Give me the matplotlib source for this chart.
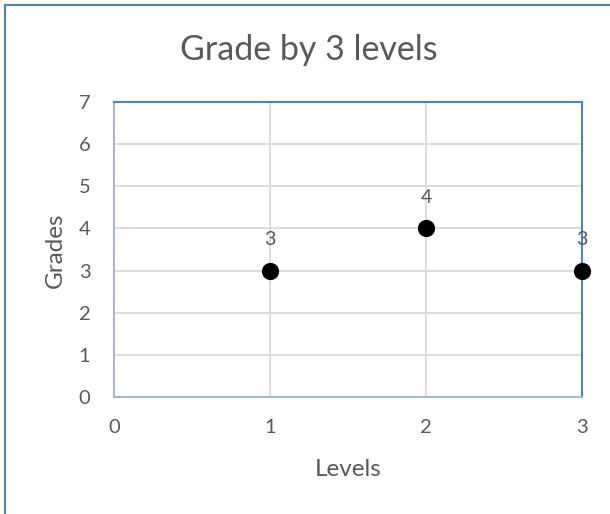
import matplotlib
matplotlib.use("Agg")
import matplotlib.pyplot as plt
from matplotlib.lines import Line2D

levels = [1, 2, 3]
grades = [3, 4, 3]
x_ticks = [0, 1, 2, 3]
y_ticks = [0, 1, 2, 3, 4, 5, 6, 7]

plt.rcParams['font.family'] = ['Lato', 'DejaVu Sans']
txt = '#595959'
grid = '#D9D9D9'
blue = '#4F81BD'

fig = plt.figure(figsize=(6.10, 5.14), dpi=100)
ax = fig.add_axes([114/610, 1-397/514, (582-114)/610, (397-102)/514])

ax.set_xlim(0, 3)
ax.set_ylim(0, 7)
ax.set_xticks(x_ticks)
ax.set_yticks(y_ticks)
ax.grid(True, color=grid, linewidth=1.3)
ax.set_axisbelow(True)
ax.tick_params(length=0, labelsize=14.5, colors=txt)
ax.tick_params(axis='x', pad=16)
ax.tick_params(axis='y', pad=17)

for s in ['top', 'right']:
    ax.spines[s].set_color(blue)
    ax.spines[s].set_linewidth(1.5)
for s in ['left', 'bottom']:
    ax.spines[s].set_color('#A9B7C8')
    ax.spines[s].set_linewidth(1.5)

ax.scatter(levels, grades, s=130, color='black', zorder=5, clip_on=False)
for x, y in zip(levels, grades):
    ax.annotate(str(y), (x, y), xytext=(0, 22.5), textcoords='offset points',
                ha='center', va='center', fontsize=14, color=txt, zorder=6)

fig.text(309/610, 1-50/514, 'Grade by 3 levels', fontsize=24.5, color=txt,
         ha='center', va='center')
fig.text(348/610, 1-469/514, 'Levels', fontsize=17.5, color=txt,
         ha='center', va='center')
fig.text(55/610, 1-250/514, 'Grades', fontsize=17.5, color=txt,
         ha='center', va='center', rotation=90)

# outer chart border (left and top visible)
fig.add_artist(Line2D([4.5/610, 4.5/610], [0, 1-4.5/514], transform=fig.transFigure, color=blue, linewidth=1.5))
fig.add_artist(Line2D([4.5/610, 1], [1-4.5/514, 1-4.5/514], transform=fig.transFigure, color=blue, linewidth=1.5))

fig.savefig('out.png', dpi=100)
